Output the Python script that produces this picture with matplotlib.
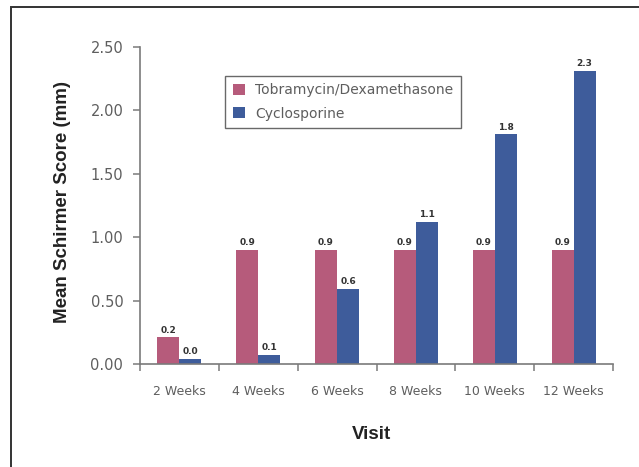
import numpy as np
import matplotlib
matplotlib.use("Agg")
import matplotlib.pyplot as plt
from matplotlib.patches import Rectangle

# ---- Data ----
visits = ["2 Weeks", "4 Weeks", "6 Weeks", "8 Weeks", "10 Weeks", "12 Weeks"]
tobra_dex = [0.21, 0.90, 0.90, 0.90, 0.90, 0.90]
cyclosporine = [0.04, 0.07, 0.59, 1.12, 1.81, 2.31]
series_names = ["Tobramycin/Dexamethasone", "Cyclosporine"]
yticks = [0.0, 0.5, 1.0, 1.5, 2.0, 2.5]

# ---- Style ----
pink = "#b65b7b"
blue = "#3e5c9b"
grey_text = "#5e5e5e"
axis_grey = "#7a7a7a"
bar_w = 0.28

fig = plt.figure(figsize=(6.39, 4.67), dpi=100)
ax = fig.add_axes([140 / 639, 1 - 364 / 467, 473 / 639, 317 / 467])

x = np.arange(len(visits))
b1 = ax.bar(x - bar_w / 2, tobra_dex, bar_w, color=pink, label=series_names[0])
b2 = ax.bar(x + bar_w / 2, cyclosporine, bar_w, color=blue, label=series_names[1])

# value labels on top of each bar
for bars in (b1, b2):
    for rect in bars:
        h = rect.get_height()
        ax.annotate(f"{h:.1f}", (rect.get_x() + rect.get_width() / 2, h),
                    xytext=(0, 2), textcoords="offset points",
                    ha="center", va="bottom", fontsize=6.5,
                    fontweight="bold", color="#333333")

ax.set_xlim(-0.5, len(visits) - 0.5)
ax.set_ylim(0, 2.5)
ax.set_yticks(yticks)
ax.set_yticklabels([f"{v:.2f}" for v in yticks])

# category labels centred, tick marks between categories
ax.set_xticks(x)
ax.set_xticklabels(visits)
ax.set_xticks(np.arange(-0.5, len(visits)), minor=True)
ax.tick_params(axis="x", which="major", length=0, pad=15,
               labelsize=9, labelcolor=grey_text)
ax.tick_params(axis="x", which="minor", length=5, width=1.1,
               color=axis_grey, direction="out")
ax.tick_params(axis="y", length=5, width=1.1, color=axis_grey, pad=7,
               labelsize=10.5, labelcolor=grey_text)

for side in ("top", "right"):
    ax.spines[side].set_visible(False)
for side in ("left", "bottom"):
    ax.spines[side].set_color(axis_grey)
    ax.spines[side].set_linewidth(1.2)

ax.set_ylabel("Mean Schirmer Score (mm)", fontsize=13.5, fontweight="bold",
              family="Liberation Sans", color="#222222")
ax.yaxis.set_label_coords(-0.145, 0.51)
ax.set_xlabel("Visit", fontsize=13.5, fontweight="bold",
              family="Liberation Sans", color="#222222")
ax.xaxis.set_label_coords(0.49, -0.195)

leg = ax.legend(loc="upper left", bbox_to_anchor=(0.18, 0.909),
                borderaxespad=0, fontsize=10, fancybox=False,
                handlelength=0.9, handleheight=0.8, handletextpad=0.7,
                labelspacing=0.65, borderpad=0.55, labelcolor=grey_text)
leg.get_frame().set_edgecolor("#444444")
leg.get_frame().set_linewidth(1.0)

# outer frame around the figure
fig.add_artist(Rectangle((11 / 639, -0.2), 1.2, 0.2 + (467 - 7) / 467,
                         transform=fig.transFigure, fill=False,
                         edgecolor="#333333", linewidth=1.4, clip_on=False))

fig.savefig("out.png", dpi=100)
